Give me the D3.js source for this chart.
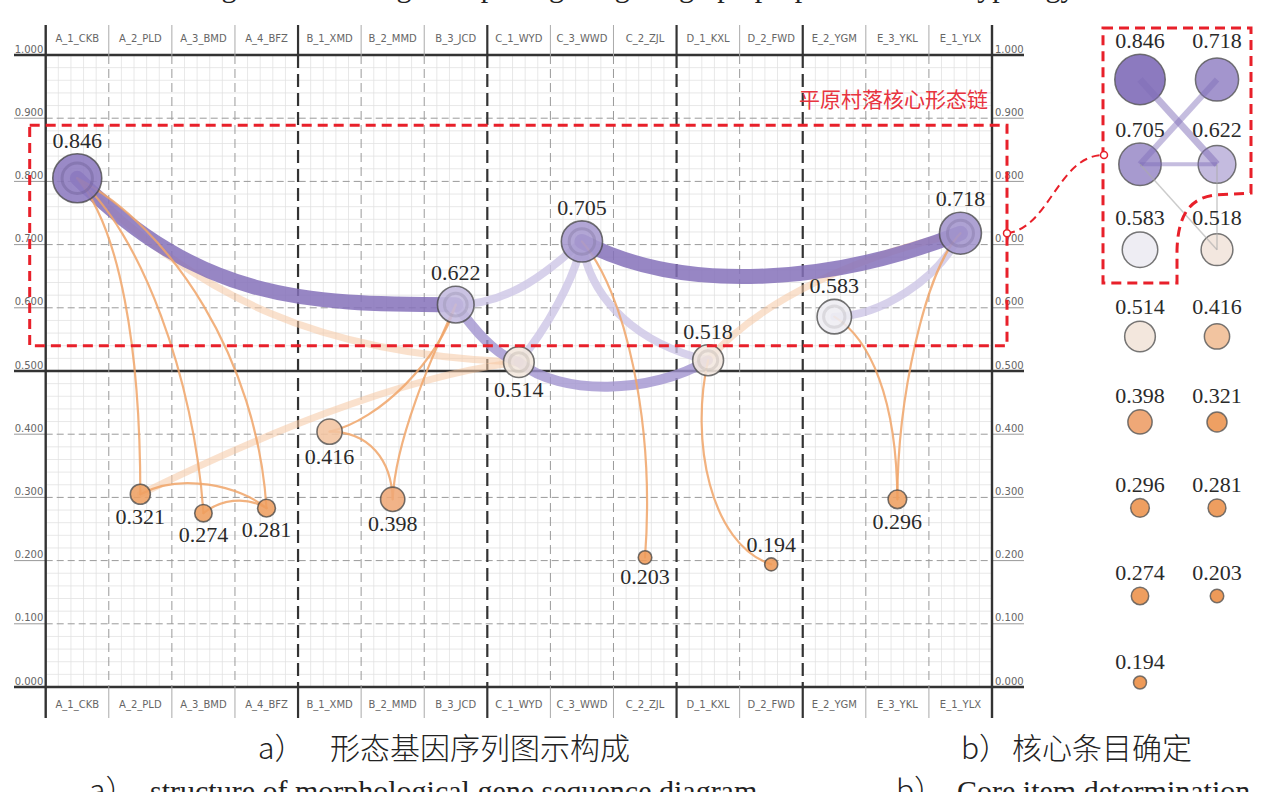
<!DOCTYPE html>
<html><head><meta charset="utf-8">
<script src="https://cdn.jsdelivr.net/npm/d3@7"></script>
<style>body{margin:0;background:#fff} svg{display:block}</style>
</head><body><svg id="c" width="1272" height="792"></svg>
<script>
// ---------------- DATA ----------------
const categories = ["A_1_CKB","A_2_PLD","A_3_BMD","A_4_BFZ","B_1_XMD","B_2_MMD","B_3_JCD","C_1_WYD","C_3_WWD","C_2_ZJL","D_1_KXL","D_2_FWD","E_2_YGM","E_3_YKL","E_1_YLX"];
const groups = ["A","A","A","A","B","B","B","C","C","C","D","D","E","E","E"];
const values = [0.846,0.321,0.274,0.281,0.416,0.398,0.622,0.514,0.705,0.203,0.518,0.194,0.583,0.296,0.718];
// height at which each node is drawn in the figure (axis units)
const plotY = [0.805,0.305,0.275,0.283,0.404,0.297,0.605,0.514,0.705,0.205,0.517,0.194,0.586,0.297,0.718];
const yTicks = [0,0.1,0.2,0.3,0.4,0.5,0.6,0.7,0.8,0.9,1.0];
const mainLinks = [[0,6],[8,14]];
const midLinks = [[6,7],[7,10]];
const weakLinks = [[6,8],[7,8],[8,10],[12,14]];
const paleLinks = [[0,7],[1,7],[10,14]];
const thinLinks = [[0,1],[0,2],[0,3],[1,3],[2,3],[4,6],[5,6],[4,5],[8,9],[10,11],[12,13],[14,13]];
const panelValues = [0.846,0.718,0.705,0.622,0.583,0.518,0.514,0.416,0.398,0.321,0.296,0.281,0.274,0.203,0.194];
const panelLinks = [[0,3],[1,2],[2,3],[2,5],[3,5]];
const coreLabel = "平原村落核心形态链";
const captionsCN = [["a）","形态基因序列图示构成"],["b）","核心条目确定"]];
const captionsEN = [["a）","structure of morphological gene sequence diagram"],["b）","Core item determination"]];
const titleText = "Fig. 6  Plain village morphological gene graph properties and its typology";

// ---------------- LAYOUT / SCALES ----------------
const SERIF = "'Liberation Serif', 'Times New Roman', serif";
const svg = d3.select("#c");
const X0 = 45.7, X1 = 992, YB = 687, YT = 55, HT = 25, HB = 718;
const x = d3.scaleBand().domain(categories).range([X0, X1]);
const bw = x.bandwidth();
const y = d3.scaleLinear().domain([0,1]).range([YB, YT]);
const r = d3.scaleLinear().domain([0.194,0.846]).range([6.5,24.5]);
const color = d3.scaleLinear()
  .domain([0.194,0.33,0.40,0.416,0.515,0.583,0.622,0.718,0.846])
  .range(['#ee9a58','#eea064','#efa878','#f2c4a0','#f3e7de','#eeedf3','#c4bbdf','#a395cd','#8c7abf']);
const cx = i => x(categories[i]) + bw/2;
const cy = i => y(plotY[i]);

// ---------------- GRID ----------------
const g = svg.append("g");
const fine = g.append("g").attr("stroke","#e0e0e0").attr("stroke-width",0.75);
categories.forEach(c => { for (let k=1;k<5;k++){ const xx = x(c)+k*bw/5;
  fine.append("line").attr("x1",xx).attr("x2",xx).attr("y1",YT).attr("y2",YB); }});
d3.range(0,50).forEach(k => { if (k%5===0) return; const yy = y(k*0.02);
  fine.append("line").attr("x1",X0).attr("x2",X1).attr("y1",yy).attr("y2",yy); });

yTicks.forEach(v => {
  const heavy = (v===0 || v===0.5 || v===1);
  if (heavy) {
    g.append("line").attr("x1",14).attr("x2",1024).attr("y1",y(v)).attr("y2",y(v))
      .attr("stroke","#333").attr("stroke-width",2.4);
  } else {
    g.append("line").attr("x1",X0).attr("x2",X1).attr("y1",y(v)).attr("y2",y(v))
      .attr("stroke","#9a9a9a").attr("stroke-width",1).attr("stroke-dasharray","7,4");
    [[14,X0],[X1,1024]].forEach(([a,b]) => g.append("line").attr("x1",a).attr("x2",b)
      .attr("y1",y(v)).attr("y2",y(v)).attr("stroke","#999").attr("stroke-width",1));
  }
});

categories.forEach((c,i) => {
  if (i===0) return;
  const xx = x(c), grp = groups[i]!==groups[i-1];
  g.append("line").attr("x1",xx).attr("x2",xx).attr("y1",YT).attr("y2",YB)
    .attr("stroke", grp?"#333":"#9a9a9a").attr("stroke-width", grp?2.2:1)
    .attr("stroke-dasharray", grp?"13,6":"9,5");
  [[HT,YT],[YB,HB]].forEach(([a,b]) => g.append("line").attr("x1",xx).attr("x2",xx)
    .attr("y1",a).attr("y2",b).attr("stroke", grp?"#333":"#aaa").attr("stroke-width", grp?2.2:1));
});
[X0,X1].forEach(xx => g.append("line").attr("x1",xx).attr("x2",xx).attr("y1",HT).attr("y2",HB)
  .attr("stroke","#333").attr("stroke-width",2.4));

const fmt = d3.format(".3f");
const axL = g.append("g").attr("transform",`translate(${X0},0)`)
  .call(d3.axisLeft(y).tickValues(yTicks).tickFormat(fmt).tickSize(0));
axL.select(".domain").remove();
axL.selectAll("text").attr("x",-31).attr("dy",-3).attr("text-anchor","start")
  .attr("font-family","DejaVu Sans").attr("font-size",10).attr("fill","#666");
const axR = g.append("g").attr("transform",`translate(${X1},0)`)
  .call(d3.axisRight(y).tickValues(yTicks).tickFormat(fmt).tickSize(0));
axR.select(".domain").remove();
axR.selectAll("text").attr("x",3).attr("dy",-3).attr("text-anchor","start")
  .attr("font-family","DejaVu Sans").attr("font-size",10).attr("fill","#666");
const axT = g.append("g").attr("transform",`translate(0,${YT})`)
  .call(d3.axisTop(x).tickSize(0));
axT.select(".domain").remove();
axT.selectAll("text").attr("y",-13).attr("dy",0)
  .attr("font-family","DejaVu Sans").attr("font-size",10).attr("fill","#666");
const axB = g.append("g").attr("transform",`translate(0,${YB})`)
  .call(d3.axisBottom(x).tickSize(0));
axB.select(".domain").remove();
axB.selectAll("text").attr("y",21).attr("dy",0)
  .attr("font-family","DejaVu Sans").attr("font-size",10).attr("fill","#666");

// ---------------- LINKS ----------------
const bends = {
  "0-6":[0.325,0.96,0.59,1.0], "8-14":[0.26,0,0.65,1,52],
  "6-7":[0.3,0.44,0.62,0.88], "7-10":[0.22,0,0.7,1,34],
  "6-8":[0.43,0,0.75,0.55], "7-8":[0.41,0.26,0.89,0.68], "8-10":[0.06,0.5,0.46,0.87], "12-14":[0.36,0,0.83,0.45],
  "0-7":[0.278,0.66,0.55,0.96], "1-7":[0.29,0.41,0.69,0.9], "10-14":[0.2,0.47,0.6,0.83],
  "0-1":[0.68,0.16,1,0.54], "0-2":[0.5,0.155,0.93,0.6], "0-3":[0.5,0.15,0.95,0.55],
  "1-3":[0.32,0,0.79,1,-22], "2-3":[0.26,0,0.66,1,-13],
  "4-6":[0.4,0.09,0.87,0.57], "5-6":[0.04,0.3,0.6,0.72], "4-5":[0.63,0,0.98,0.42],
  "8-9":[0.68,0.155,1.16,0.57], "10-11":[-0.29,0.39,0.03,0.9],
  "12-13":[0.57,0.12,0.99,0.45], "14-13":[0.57,0.14,1.0,0.63]
};
function linkPath([s,t]) {
  const x0=cx(s), y0=cy(s), x1=cx(t), y1=cy(t), dx=x1-x0, dy=y1-y0;
  const [a,b,c,d,sg=0] = bends[s+"-"+t] || [0.33,0,0.66,1];
  const p = d3.path(); p.moveTo(x0,y0);
  p.bezierCurveTo(x0+a*dx, y0+b*dy+sg, x0+c*dx, y0+d*dy+sg, x1, y1);
  return p.toString();
}
const lg = svg.append("g").attr("fill","none").attr("stroke-linecap","round");
function drawLinks(list, col, w, op) {
  lg.append("g").selectAll("path").data(list).join("path")
    .attr("d", linkPath).attr("stroke", col).attr("stroke-width", w).attr("stroke-opacity", op);
}
drawLinks(paleLinks, "#f6c9a4", 7, 0.55);
drawLinks(weakLinks, "#cdc6e6", 8, 0.8);
drawLinks(midLinks, "#a193cf", 10, 0.8);
drawLinks(mainLinks, "#8571ba", 15, 0.85);
drawLinks(thinLinks, "#f0a469", 2.2, 0.85);

// ---------------- NODES ----------------
const ng = svg.append("g");
const idx = d3.range(values.length);
ng.selectAll("circle.n").data(idx).join("circle").attr("class","n")
  .attr("cx",cx).attr("cy",cy).attr("r",i=>r(values[i]))
  .attr("fill",i=>color(values[i])).attr("fill-opacity",0.88)
  .attr("stroke","#444").attr("stroke-opacity",0.75).attr("stroke-width",1.6);
ng.selectAll("circle.in").data(idx.filter(i=>values[i]>0.5)).join("circle").attr("class","in")
  .attr("cx",cx).attr("cy",cy).attr("r",i=>r(values[i])*0.62).attr("fill","none")
  .attr("stroke",i=>d3.color(color(values[i])).darker(0.6)).attr("stroke-opacity",0.45).attr("stroke-width",3);
const above = new Set([0,6,8,10,11,12,14]);
ng.selectAll("text").data(idx).join("text")
  .attr("x",cx).attr("y",i=> above.has(i) ? cy(i)-r(values[i])-6 : cy(i)+r(values[i])+20)
  .attr("text-anchor","middle").style("font-family",SERIF)
  .attr("font-size",22).attr("fill","#2a2a2a").text(i=>fmt(values[i]));

// ---------------- ANNOTATION ----------------
const red = "#e8202a";
svg.append("rect").attr("x",X0-16).attr("y",y(0.889)).attr("width",(X1+15)-(X0-16)).attr("height",y(0.54)-y(0.889))
  .attr("fill","none").attr("stroke",red).attr("stroke-width",3).attr("stroke-dasharray","10,6");
svg.append("text").attr("x",988).attr("y",107).attr("text-anchor","end")
  .attr("font-family","Noto Sans CJK SC").attr("font-size",21).attr("fill","#e8343f").text(coreLabel);

// ---------------- PANEL b ----------------
const pcol = d3.scalePoint().domain([0,1]).range([1140,1217]);
const prow = d3.scaleLinear().domain([0,7]).range([48,669]);
const rowR = d3.range(8).map(rw => d3.max(panelValues.filter((v,i)=>Math.floor(i/2)===rw), v=>r(v)));
const px = i => pcol(i%2), pyl = i => prow(Math.floor(i/2)), pcy = i => pyl(i)+7+rowR[Math.floor(i/2)];
const pg = svg.append("g");
const pidx = d3.range(panelValues.length);
pg.selectAll("circle").data(pidx).join("circle")
  .attr("cx",px).attr("cy",pcy).attr("r",i=>r(panelValues[i])*(i<6?1.03:1))
  .attr("fill",i=>color(panelValues[i])).attr("stroke","#555").attr("stroke-opacity",0.8).attr("stroke-width",1.5);
const plStyle = [[7,"#7f6db8",0.5],[6,"#7f6db8",0.45],[4,"#7f6db8",0.45],[1.5,"#aaa",0.6],[1.5,"#aaa",0.6]];
pg.selectAll("line").data(panelLinks).join("line")
  .attr("x1",d=>px(d[0])).attr("y1",d=>pcy(d[0])).attr("x2",d=>px(d[1])).attr("y2",d=>pcy(d[1]))
  .attr("stroke",(d,i)=>plStyle[i][1]).attr("stroke-width",(d,i)=>plStyle[i][0]).attr("stroke-opacity",(d,i)=>plStyle[i][2]);
pg.selectAll("text").data(pidx).join("text")
  .attr("x",px).attr("y",pyl).attr("text-anchor","middle")
  .style("font-family",SERIF).attr("font-size",22).attr("fill","#2a2a2a")
  .text(i=>fmt(panelValues[i]));
svg.append("path").attr("d","M1103,28 H1251 V193 L1215,195 C1190,198 1178,215 1177,250 V283 H1103 Z")
  .attr("fill","none").attr("stroke",red).attr("stroke-width",3).attr("stroke-dasharray","10,6");
svg.append("path").attr("d",`M${X1+15},${y(0.718)} C1050,228 1058,155 1104,155`)
  .attr("fill","none").attr("stroke",red).attr("stroke-width",2).attr("stroke-dasharray","8,5");
[[X1+15,y(0.718)],[1104,155]].forEach(([a,b]) => svg.append("circle").attr("cx",a).attr("cy",b).attr("r",3.5)
  .attr("fill","#fff").attr("stroke",red).attr("stroke-width",1.5));

// ---------------- CAPTIONS ----------------
svg.append("text").attr("x",636).attr("y",-3.5).attr("text-anchor","middle")
  .style("font-family",SERIF).attr("font-size",30).attr("fill","#222").text(titleText);
const cnPos = [[258,330],[961,1012]], enPos = [[89,150],[896,957]];
captionsCN.forEach((c,i) => {
  const t = svg.append("text").attr("y",759).attr("font-family","Noto Sans CJK SC").attr("font-weight",300)
    .attr("font-size",30).attr("fill","#222");
  t.append("tspan").attr("x",cnPos[i][0]).text(c[0]);
  t.append("tspan").attr("x",cnPos[i][1]).text(c[1]);
});
captionsEN.forEach((c,i) => {
  const t = svg.append("text").attr("y",801).attr("font-size",30).attr("fill","#222");
  t.append("tspan").attr("x",enPos[i][0]).attr("font-family","Noto Sans CJK SC").attr("font-weight",300).text(c[0]);
  t.append("tspan").attr("x",enPos[i][1]).style("font-family",SERIF).text(c[1]);
});
</script></body></html>
